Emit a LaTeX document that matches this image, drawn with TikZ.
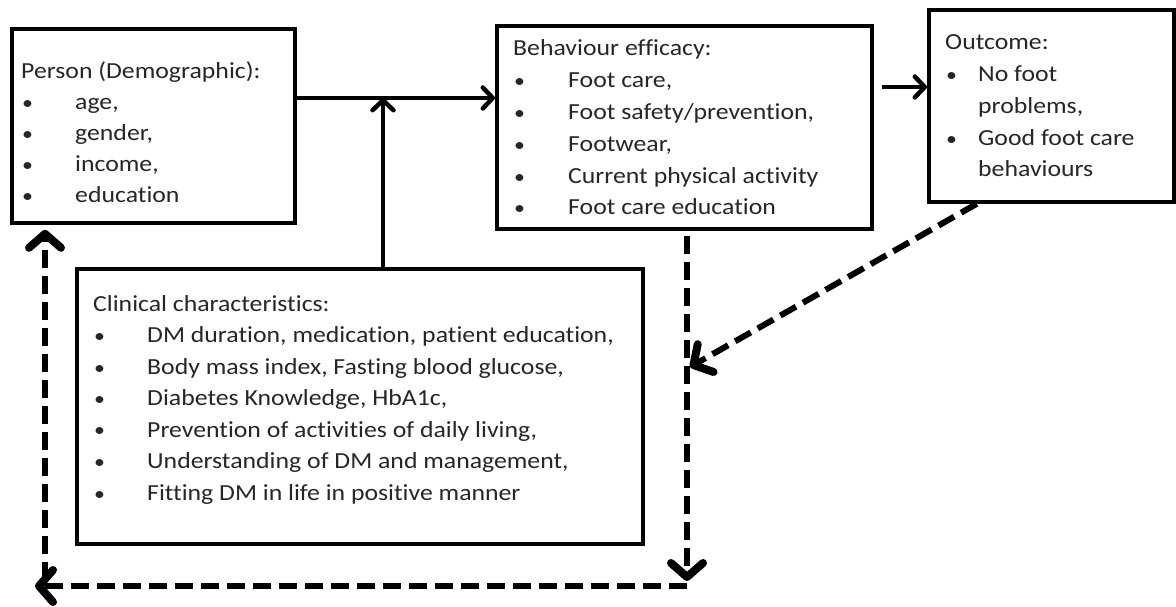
\documentclass[tikz,border=0pt]{standalone}
\usepackage{fontspec}
\setmainfont{Carlito}[FakeStretch=1.12, Ligatures=NoCommon]
\usetikzlibrary{arrows.meta,calc}
\newcommand{\blt}{\hspace*{1pt}\scalebox{0.85}{\textbullet}}
\newcommand{\dsp}{\hspace{6pt}}
\tikzset{
  box/.style={draw=black, line width=3.8pt, rectangle, inner sep=0pt, anchor=north west},
  txt/.style={inner sep=0pt, anchor=base west, text=black!85},
  solidarr/.style={line width=3.5pt, -{Straight Barb[length=10pt,width=21pt,line width=4.5pt,round]}},
  dasharr/.style={line width=6pt, dash pattern=on 18pt off 8pt, -{Straight Barb[length=14pt,width=32pt,line width=8pt,round]}},
}
\begin{document}
\begin{tikzpicture}[x=1pt,y=-1pt]
\useasboundingbox (0,0) rectangle (1176,607);
% boxes
\node[box, minimum width=283pt, minimum height=194pt] (person) at (10,27) {};
\node[box, minimum width=375pt, minimum height=203pt] (behav) at (495,24) {};
\node[box, minimum width=245pt, minimum height=192pt] (outcome) at (927,8) {};
\node[box, minimum width=566pt, minimum height=275pt] (clinical) at (75,267) {};
% texts
\node[txt] (persontxt) at (21,79) {\fontsize{23}{31}\selectfont
\begin{tabular}[t]{@{}p{54pt}@{}l@{}}
\multicolumn{2}{@{}l@{}}{Person (Demographic):}\\
\blt & age,\\
\blt & gender,\\
\blt & income,\\
\blt & education
\end{tabular}};
\node[txt] (behavtxt) at (513,56) {\fontsize{23}{31.8}\selectfont
\begin{tabular}[t]{@{}p{55pt}@{}l@{}}
\multicolumn{2}{@{}l@{}}{Behaviour\dsp efficacy:}\\
\blt & Foot care,\\
\blt & Foot safety/prevention,\\
\blt & Footwear,\\
\blt & Current\dsp physical\dsp activity\\
\blt & Foot care education
\end{tabular}};
\node[txt] (outcometxt) at (945,50) {\fontsize{23}{31.7}\selectfont
\begin{tabular}[t]{@{}p{33pt}@{}l@{}}
\multicolumn{2}{@{}l@{}}{Outcome:}\\
\blt & No foot\\
 & problems,\\
\blt & Good\dsp foot care\\
 & behaviours
\end{tabular}};
\node[txt] (clinicaltxt) at (93,311) {\fontsize{23}{31.5}\selectfont
\begin{tabular}[t]{@{}p{54pt}@{}l@{}}
\multicolumn{2}{@{}l@{}}{Clinical characteristics:}\\
\blt & DM duration,\dsp medication,\dsp patient education,\\
\blt & Body mass index, Fasting blood glucose,\\
\blt & Diabetes Knowledge,\dsp HbA1c,\\
\blt & Prevention\dsp of activities of daily living,\\
\blt & Understanding\dsp of DM and management,\\
\blt & Fitting DM in life in positive manner
\end{tabular}};
% coordinates
\coordinate (j) at (383,98);
\coordinate (k) at (0,87);
\coordinate (br) at (687,586);
\coordinate (bl) at (35,586);
\coordinate (m) at (690,367);
\coordinate (lv) at (45,580);
% solid connectors
\draw[solidarr] (person.east |- j) -- (behav.west |- j);
\draw[solidarr] (j |- clinical.north) -- (j);
\draw[solidarr, shorten <=8pt] (behav.east |- k) -- (outcome.west |- k);
% dashed connectors
\draw[dasharr, shorten <=5pt, shorten >=5pt] (behav.south -| br) -- (br);
\draw[dasharr] ($(outcome.south west)!0.2!(outcome.south east)$) -- (m);
\draw[dasharr] (br) -- (bl);
\draw[dasharr, shorten >=5pt] (lv) -- (lv |- person.south);
\end{tikzpicture}
\end{document}
